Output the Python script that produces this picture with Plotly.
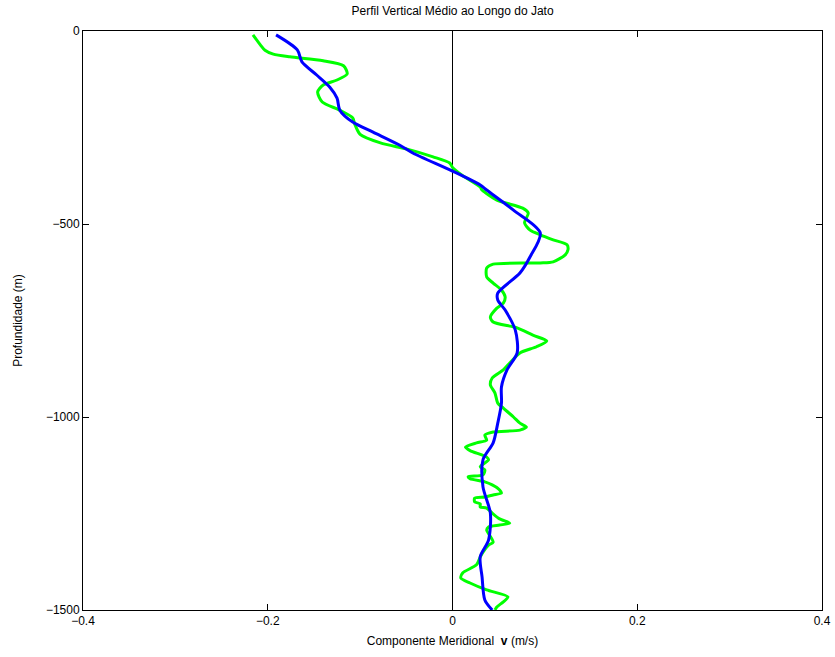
import plotly.graph_objects as go

# Green (raw) profile: velocity (m/s) and depth (m)
raw_v = [-0.216, -0.208, -0.203, -0.194, -0.176, -0.140, -0.118, -0.114, -0.125, -0.140, -0.146,
         -0.141, -0.122, -0.108, -0.106, -0.100, -0.078, -0.049, -0.021, -0.003, 0.0005,
         0.010, 0.030, 0.032, 0.048, 0.076, 0.082, 0.078, 0.084, 0.095, 0.109,
         0.124, 0.125, 0.122, 0.109, 0.095, 0.044, 0.037, 0.037, 0.044, 0.053,
         0.057, 0.055, 0.048, 0.041, 0.044, 0.070, 0.087, 0.102, 0.091, 0.073,
         0.062, 0.055, 0.043, 0.041, 0.046, 0.049, 0.055, 0.066, 0.073, 0.080,
         0.073, 0.044, 0.035, 0.037, 0.026, 0.014, 0.019, 0.037, 0.039, 0.030,
         0.035, 0.033, 0.017, 0.019, 0.035, 0.043, 0.051, 0.053, 0.044, 0.035,
         0.024, 0.024, 0.030, 0.030, 0.037, 0.043, 0.051, 0.062, 0.051, 0.039,
         0.037, 0.044, 0.039, 0.033, 0.030, 0.026, 0.011, 0.009, 0.019, 0.037,
         0.060, 0.055, 0.048, 0.046]
raw_d = [10, 36, 50, 60, 67, 77, 90, 111, 127, 140, 158,
         184, 205, 225, 240, 268, 290, 306, 326, 342, 355,
         373, 404, 412, 438, 459, 472, 497, 516, 528, 541,
         554, 567, 580, 598, 601, 604, 614, 637, 653, 671,
         689, 705, 718, 741, 754, 769, 788, 803, 818, 834,
         860, 878, 899, 917, 938, 964, 977, 1000, 1016, 1026,
         1034, 1039, 1047, 1060, 1067, 1078, 1087, 1104, 1111, 1129,
         1137, 1150, 1155, 1160, 1168, 1176, 1189, 1197, 1202, 1207,
         1210, 1220, 1225, 1233, 1236, 1249, 1264, 1275, 1280, 1285,
         1293, 1324, 1332, 1350, 1363, 1383, 1404, 1417, 1430, 1448,
         1466, 1479, 1492, 1500]

# Blue (smoothed) profile
smooth_v = [-0.191, -0.168, -0.163, -0.147, -0.133, -0.125, -0.122, -0.108, -0.086, -0.057,
            -0.043, 0.000, 0.030, 0.037, 0.066, 0.095, 0.084, 0.073, 0.049, 0.049,
            0.057, 0.068, 0.070, 0.059, 0.053, 0.053, 0.049, 0.044, 0.033, 0.033,
            0.041, 0.039, 0.030, 0.032, 0.035, 0.043]
smooth_d = [10, 49, 80, 114, 145, 174, 205, 236, 262, 296,
            316, 363, 399, 412, 464, 523, 585, 627, 679, 697,
            723, 775, 834, 878, 922, 964, 1016, 1067, 1111, 1181,
            1249, 1319, 1362, 1414, 1474, 1500]

x_ticks = [-0.4, -0.2, 0, 0.2, 0.4]
x_labels = ["−0.4", "−0.2", "0", "0.2", "0.4"]
y_ticks = [0, -500, -1000, -1500]
y_labels = ["0", "−500", "−1000", "−1500"]

fig = go.Figure()
fig.add_trace(go.Scatter(x=raw_v, y=[-d for d in raw_d], mode="lines",
                         line=dict(color="#00ff00", width=3, shape="spline", smoothing=0.7),
                         showlegend=False))
fig.add_trace(go.Scatter(x=smooth_v, y=[-d for d in smooth_d], mode="lines",
                         line=dict(color="#0000ff", width=3, shape="spline", smoothing=0.8),
                         showlegend=False))

font = "Liberation Sans, Arial, Helvetica, sans-serif"
axis_common = dict(showline=True, linecolor="black", linewidth=1, mirror="ticks",
                   ticks="inside", ticklen=6, tickcolor="black", showgrid=False,
                   automargin=False,
                   tickfont=dict(family=font, size=12, color="black"))

fig.update_xaxes(range=[-0.4, 0.4], tickvals=x_ticks, ticktext=x_labels,
                 zeroline=True, zerolinecolor="black", zerolinewidth=1,
                 title=dict(text="Componente Meridional  <b>v</b> (m/s)",
                            font=dict(family=font, size=12, color="black"), standoff=9),
                 **axis_common)
fig.update_yaxes(range=[-1500, 0], tickvals=y_ticks, ticktext=y_labels,
                 zeroline=False,
                 title=dict(text="Profundidade (m)",
                            font=dict(family=font, size=12, color="black"), standoff=20),
                 **axis_common)

fig.update_layout(
    width=835, height=657,
    margin=dict(l=83, r=13, t=31, b=47),
    plot_bgcolor="white", paper_bgcolor="white",
    title=dict(text="Perfil Vertical Médio ao Longo do Jato", x=0.542, xanchor="center",
               y=0.99, yanchor="top", font=dict(family=font, size=12, color="black")),
)

fig.write_html("out.html")
